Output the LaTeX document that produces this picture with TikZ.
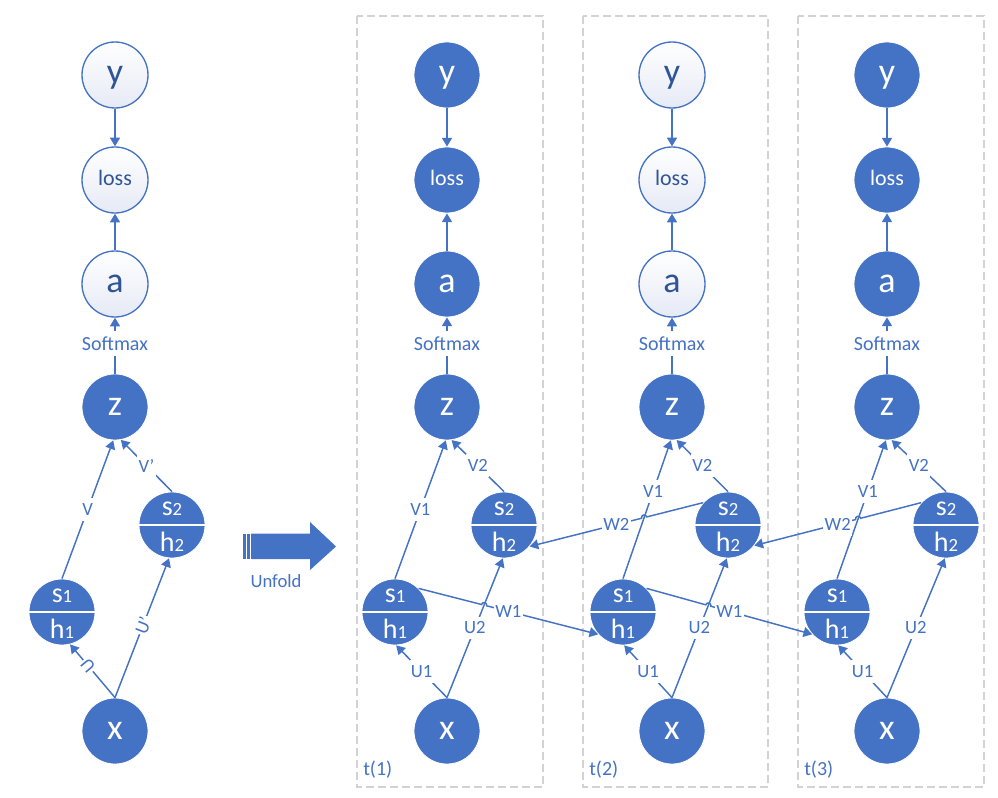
\documentclass[tikz,border=0pt]{standalone}
\usepackage{fontspec}
\setmainfont{Carlito}
\usetikzlibrary{arrows.meta,calc}

\definecolor{nodeblue}{HTML}{4472C4}
\definecolor{deepblue}{HTML}{2F5597}
\definecolor{framegray}{HTML}{D3D3D3}
\definecolor{paleshade}{HTML}{E6EAF5}

\tikzset{
  fnode/.style={circle, minimum size=49.5pt, inner sep=0pt, fill=nodeblue,
    draw=white, line width=0.6pt, text=white},
  onode/.style={circle, minimum size=49.5pt, inner sep=0pt, draw=nodeblue,
    line width=1pt, top color=white, bottom color=paleshade, text=deepblue},
  bigtxt/.style={font=\fontsize{27}{27}\selectfont, text height=12.6pt, text depth=0pt},
  losstxt/.style={font=\fontsize{16.5}{16.5}\selectfont, text height=7.7pt, text depth=0pt},
  shtxt/.style={font=\fontsize{21}{21}\selectfont, text=white, inner sep=0pt},
  conn/.style={draw=nodeblue, line width=1.1pt, -{Triangle[length=6.5pt,width=7.5pt]}},
  elabel/.style={fill=white, text=nodeblue, font=\fontsize{14}{14}\selectfont,
    inner xsep=1pt, inner ysep=4pt},
  smlabel/.style={elabel, font=\fontsize{15}{15}\selectfont},
  framebox/.style={draw=framegray, line width=1.1pt, dash pattern=on 6pt off 3pt},
  tlabel/.style={text=nodeblue, font=\fontsize{15}{15}\selectfont, inner sep=0pt},
  unfoldarrow/.style={fill=nodeblue},
}

% smaller digit used for the state indices
\newcommand\subdig[1]{{\fontsize{14}{14}\selectfont #1}}

% hidden-unit node: s above, h below, split by a white rule
\newcommand\shnode[4]{%
  \node[fnode] (#1) at (#2,#3) {};
  \draw[white, line width=1.4pt] (#1.west) -- (#1.east);
  \node[shtxt, anchor=base] (#1s) at (#2,#3-10) {s\subdig{#4}};
  \node[shtxt, anchor=base] (#1h) at (#2,#3+26) {h\subdig{#4}};
}

% one column of the network: y, loss, a, z, two hidden units, x
\newcommand\rnncolumn[5]{%
  \node[#5, bigtxt] (#1y) at (#2,75) {y};
  \node[#5, losstxt] (#1loss) at (#2,180) {loss};
  \node[#5, bigtxt] (#1a) at (#2,284) {a};
  \node[fnode, bigtxt] (#1z) at (#2,407) {z};
  \shnode{#1s1}{#3}{612}{1}
  \shnode{#1s2}{#4}{525}{2}
  \node[fnode, bigtxt] (#1x) at (#2,731) {x};
  \draw[conn] (#1y) -- (#1loss);
  \draw[conn] (#1a) -- (#1loss);
  \draw[conn] (#1z) -- node[smlabel, pos=0.54] (#1soft) {Softmax} (#1a);
}

% recurrent link with a small jump over the crossing connector
\newcommand\wlink[7]{%
  \draw[conn] let \p1=(#1), \p2=(#2),
      \p3=(intersection of #1--#2 and #3--#4),
      \n1={atan2(\y1-\y3,\x1-\x3)} in
    (\p1) -- ($(\p3)!2pt!(\p1)$) arc[start angle=\n1, delta angle=#5, radius=2pt] -- (\p2);
  \node[elabel] (#7) at ($(#1)!0.5!(#2)$) {#6};
}

\begin{document}
\begin{tikzpicture}[x=0.75pt, y=-0.75pt]
\useasboundingbox (0,0) rectangle (998,798);

% time-step frames
\draw[framebox] (357,16) rectangle (543,787);
\draw[framebox] (583,16) rectangle (768,787);
\draw[framebox] (798,16) rectangle (984,787);
\node[tlabel, anchor=base west] (t1) at (363,775) {t(1)};
\node[tlabel, anchor=base west] (t2) at (589,775) {t(2)};
\node[tlabel, anchor=base west] (t3) at (804,775) {t(3)};

% folded network
\rnncolumn{L}{115}{62}{172}{onode}
\draw[conn] (Ls1.north) -- node[elabel] (LV) {V} (Lz.-93);
\draw[conn] (Ls2.north) -- node[elabel] (LVp) {V’} (Lz.-80);
\draw[conn] (Lx.north) -- node[elabel, sloped, allow upside down, pos=0.6] (LU) {U} (Ls1.-76);
\draw[conn] (Lx.north) -- node[elabel, sloped, pos=0.52, inner ysep=2pt] (LUp) {U’} (Ls2.-95);

% unfold arrow
\fill[unfoldarrow] (243,533.5) rectangle (245.5,559);
\fill[unfoldarrow] (247,533.5) rectangle (249.5,559);
\fill[unfoldarrow] (251,533.5) -- (310,533.5) -- (310,522) -- (336,546.5)
  -- (310,570) -- (310,559) -- (251,559) -- cycle;
\node[tlabel, anchor=base, font=\fontsize{14}{14}\selectfont] (unfold) at (276,587) {Unfold};

% unfolded network
\rnncolumn{P}{447}{395}{504}{fnode}
\rnncolumn{Q}{672}{623}{728}{onode}
\rnncolumn{R}{887}{837}{946}{fnode}

\draw[conn] (Ps1.north) -- node[elabel] (PV1) {V1} (Pz.-92);
\foreach \c in {Q,R}{
  \draw[conn] (\c s1.north) -- node[elabel, pos=0.63] (\c V1) {V1} (\c z.-92);
}
\foreach \c in {P,Q,R}{
  \draw[conn] (\c s2.north) -- node[elabel] (\c V2) {V2} (\c z.-82);
  \draw[conn] (\c x.north) -- node[elabel] (\c U1) {U1} (\c s1.-88);
  \draw[conn] (\c x.north) -- node[elabel] (\c U2) {U2} (\c s2.-92);
}

% end points of the recurrent links
\coordinate (PW1a) at (Ps1.45);  \coordinate (PW1b) at (Qs1.222);
\coordinate (QW1a) at (Qs1.45);  \coordinate (QW1b) at (Rs1.222);
\coordinate (QW2a) at (Qs2.138); \coordinate (QW2b) at (Ps2.-40);
\coordinate (RW2a) at (Rs2.138); \coordinate (RW2b) at (Qs2.-38);
\coordinate (PU2a) at (Px.north); \coordinate (PU2b) at (Ps2.-92);
\coordinate (QU2a) at (Qx.north); \coordinate (QU2b) at (Qs2.-92);
\coordinate (QV1a) at (Qs1.north); \coordinate (QV1b) at (Qz.-92);
\coordinate (RV1a) at (Rs1.north); \coordinate (RV1b) at (Rz.-92);

\wlink{PW1a}{PW1b}{PU2a}{PU2b}{-180}{W1}{PW1}
\wlink{QW1a}{QW1b}{QU2a}{QU2b}{-180}{W1}{QW1}
\wlink{QW2a}{QW2b}{QV1a}{QV1b}{180}{W2}{QW2}
\wlink{RW2a}{RW2b}{RV1a}{RV1b}{180}{W2}{RW2}
\end{tikzpicture}
\end{document}
